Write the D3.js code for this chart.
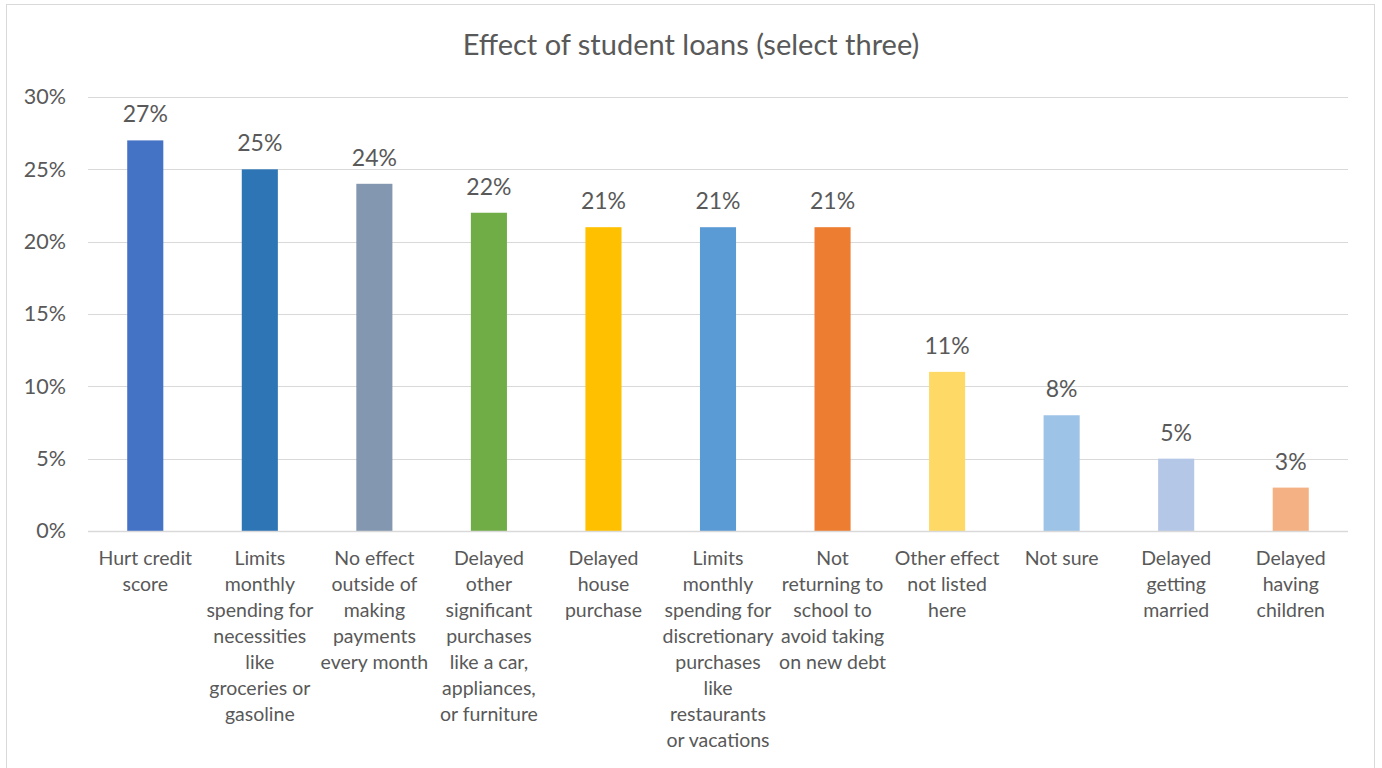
<!DOCTYPE html>
<html>
<head>
<meta charset="utf-8">
<script src="https://cdn.jsdelivr.net/npm/d3@7"></script>
<style>
  html, body { margin: 0; padding: 0; background: #fff; }
  svg { display: block; }
  text { font-family: Lato, "Open Sans", sans-serif; fill: #595959; }
</style>
</head>
<body>
<svg id="chart" width="1382" height="768"></svg>
<script>
const title = "Effect of student loans (select three)";

// Category labels, one entry per wrapped line
const categories = [
  ["Hurt credit", "score"],
  ["Limits", "monthly", "spending for", "necessities", "like", "groceries or", "gasoline"],
  ["No effect", "outside of", "making", "payments", "every month"],
  ["Delayed", "other", "significant", "purchases", "like a car,", "appliances,", "or furniture"],
  ["Delayed", "house", "purchase"],
  ["Limits", "monthly", "spending for", "discretionary", "purchases", "like", "restaurants", "or vacations"],
  ["Not", "returning to", "school to", "avoid taking", "on new debt"],
  ["Other effect", "not listed", "here"],
  ["Not sure"],
  ["Delayed", "getting", "married"],
  ["Delayed", "having", "children"]
];

const values = [27, 25, 24, 22, 21, 21, 21, 11, 8, 5, 3];

const colors = [
  "#4472C4", "#2E75B6", "#8497B0", "#70AD47", "#FFC000", "#5B9BD5",
  "#ED7D31", "#FFD966", "#9DC3E6", "#B4C7E7", "#F4B183"
];

const yTicks = [0, 5, 10, 15, 20, 25, 30];

const svg = d3.select("#chart");

// Outer chart frame
svg.append("rect")
  .attr("x", 6.5).attr("y", 4.5)
  .attr("width", 1368).attr("height", 780)
  .attr("fill", "none").attr("stroke", "#d9d9d9").attr("stroke-width", 1);

const plot = { left: 88, right: 1348, top: 97, bottom: 531 };

const x = d3.scaleBand()
  .domain(d3.range(categories.length))
  .range([plot.left, plot.right])
  .paddingInner(0.685)
  .paddingOuter(0.3425);

const y = d3.scaleLinear().domain([0, 30]).range([plot.bottom, plot.top]);

// Title
svg.append("text")
  .attr("x", 691).attr("y", 55)
  .attr("text-anchor", "middle")
  .style("font-size", "29px")
  .text(title);

// Gridlines
svg.append("g")
  .selectAll("line")
  .data(yTicks.filter(d => d > 0))
  .join("line")
  .attr("x1", plot.left).attr("x2", plot.right)
  .attr("y1", d => Math.round(y(d)) + 0.5)
  .attr("y2", d => Math.round(y(d)) + 0.5)
  .attr("stroke", "#d9d9d9").attr("stroke-width", 1);

// Y axis labels
const yAxis = d3.axisLeft(y)
  .tickValues(yTicks)
  .tickFormat(d => d + "%")
  .tickSize(0)
  .tickPadding(0);

const yg = svg.append("g")
  .attr("transform", `translate(${plot.left - 22},0)`)
  .call(yAxis);
yg.select(".domain").remove();
yg.selectAll("text")
  .style("font-size", "21.5px")
  .style("font-family", "Lato, 'Open Sans', sans-serif")
  .attr("fill", "#595959");

// Bars
svg.append("g")
  .selectAll("rect")
  .data(values)
  .join("rect")
  .attr("x", (d, i) => x(i))
  .attr("width", x.bandwidth())
  .attr("y", d => y(d))
  .attr("height", d => y(0) - y(d))
  .attr("fill", (d, i) => colors[i]);

// Value labels
svg.append("g")
  .selectAll("text")
  .data(values)
  .join("text")
  .attr("x", (d, i) => x(i) + x.bandwidth() / 2)
  .attr("y", d => y(d) - 18)
  .attr("text-anchor", "middle")
  .style("font-size", "23px")
  .attr("fill", "#404040")
  .text(d => d + "%");

// X axis baseline
svg.append("line")
  .attr("x1", plot.left).attr("x2", plot.right)
  .attr("y1", plot.bottom + 0.5).attr("y2", plot.bottom + 0.5)
  .attr("stroke", "#d9d9d9").attr("stroke-width", 1.5);

// Category labels
const catG = svg.append("g")
  .selectAll("text")
  .data(categories)
  .join("text")
  .attr("text-anchor", "middle")
  .style("font-size", "19.5px")
  .attr("transform", (d, i) => `translate(${x(i) + x.bandwidth() / 2},${plot.bottom + 34})`);

catG.selectAll("tspan")
  .data(d => d)
  .join("tspan")
  .attr("x", 0)
  .attr("y", (d, j) => j * 26)
  .text(d => d);
</script>
</body>
</html>
